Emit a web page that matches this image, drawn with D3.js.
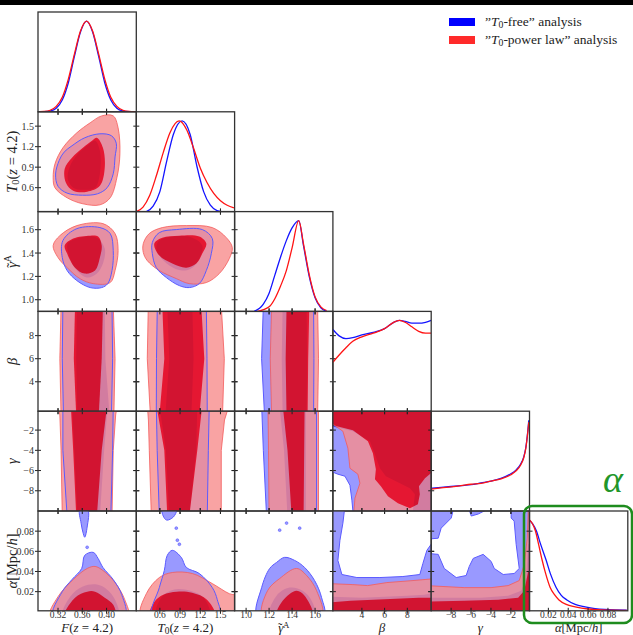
<!DOCTYPE html>
<html>
<head>
<meta charset="utf-8">
<script src="https://cdn.jsdelivr.net/npm/d3@7"></script>
<style>
  body { margin: 0; background: #fff; }
  svg { display: block; }
  text { font-family: "Liberation Serif", "DejaVu Serif", serif; }
</style>
</head>
<body>
<svg class="corner"></svg>
<script>
// ---------------- data ----------------
// parameters: F, T0, gammaA, beta, gamma, alpha
let domains = [[0.287, 0.449], [0.25, 1.71], [0.9, 1.755], [1.45, 10.1], [-10, -0.13], [0.001, 0.1]];
let ticks = [[0.32, 0.36, 0.40], [0.6, 0.9, 1.2, 1.5], [1.0, 1.2, 1.4, 1.6], [4, 6, 8], [-8, -6, -4, -2], [0.02, 0.04, 0.06, 0.08]];
let tickLabels = [["0.32", "0.36", "0.40"], ["0.6", "0.9", "1.2", "1.5"], ["1.0", "1.2", "1.4", "1.6"], ["4", "6", "8"],
                  ["\u22128", "\u22126", "\u22124", "\u22122"], ["0.02", "0.04", "0.06", "0.08"]];
let axisLabels = [
  [["F", "i"], ["("], ["z", "i"], [" = 4.2)"]],
  [["T", "i"], ["0", "sub"], ["("], ["z", "i"], [" = 4.2)"]],
  [["\u03b3", "i"], ["\u02dc", "acc"], ["A", "sup"]],
  [["\u03b2", "i"]],
  [["\u03b3", "i"]],
  [["\u03b1", "i"], ["[Mpc/"], ["h", "i"], ["]"]]
];
let legendItems = [
  [["\u201d"], ["T", "i"], ["0", "sub"], ["-free\u201d analysis"]],
  [["\u201d"], ["T", "i"], ["0", "sub"], ["-power law\u201d analysis"]]
];

// 1D marginals (relative height) : blue = T0-free, red = T0-power law
let pdfBlue = [
  [[0.297,0.002],[0.307,0.01],[0.317,0.04],[0.327,0.13],[0.337,0.32],[0.347,0.61],[0.357,0.88],[0.367,1],[0.377,0.88],[0.387,0.61],[0.397,0.32],[0.407,0.13],[0.417,0.04],[0.427,0.01],[0.437,0.002]],
  [[0.40,0],[0.5,0.06],[0.6,0.22],[0.7,0.55],[0.8,0.85],[0.93,1],[1.05,0.85],[1.15,0.5],[1.25,0.22],[1.35,0.07],[1.45,0.01],[1.52,0]],
  [[1.07,0],[1.15,0.08],[1.2,0.2],[1.25,0.4],[1.3,0.6],[1.35,0.78],[1.4,0.92],[1.458,1],[1.5,0.72],[1.55,0.38],[1.6,0.15],[1.65,0.04],[1.7,0]],
  [[1.45,0.9],[2.0,0.83],[2.6,0.8],[3.2,0.81],[4,0.84],[5,0.87],[6,0.91],[6.8,0.98],[7.3,1],[7.8,0.99],[8.4,0.97],[9,0.97],[9.6,0.98],[10.1,1.0]],
  [[-10,0.25],[-9,0.26],[-8,0.27],[-7,0.28],[-6,0.29],[-5,0.31],[-4,0.33],[-3,0.36],[-2,0.41],[-1.5,0.45],[-1,0.52],[-0.7,0.6],[-0.5,0.7],[-0.35,0.83],[-0.2,1.0]],
  [[0.001,1.0],[0.004,0.96],[0.008,0.88],[0.012,0.74],[0.0177,0.56],[0.022,0.41],[0.0277,0.26],[0.033,0.17],[0.0387,0.12],[0.047,0.07],[0.057,0.044],[0.067,0.025],[0.077,0.015],[0.088,0.01],[0.099,0.008]]
];
let pdfRed = [
  [[0.29,0.002],[0.297,0.004],[0.307,0.017],[0.317,0.06],[0.327,0.16],[0.337,0.36],[0.347,0.635],[0.357,0.89],[0.367,1],[0.377,0.89],[0.387,0.635],[0.397,0.36],[0.407,0.16],[0.417,0.06],[0.427,0.017],[0.437,0.004],[0.447,0.001]],
  [[0.25,0],[0.35,0.05],[0.45,0.18],[0.55,0.4],[0.65,0.65],[0.75,0.87],[0.886,1],[1.0,0.9],[1.1,0.7],[1.2,0.48],[1.3,0.32],[1.4,0.2],[1.5,0.12],[1.6,0.07],[1.7,0.04]],
  [[1.1,0],[1.2,0.05],[1.25,0.14],[1.3,0.28],[1.35,0.45],[1.4,0.7],[1.458,1],[1.5,0.74],[1.55,0.4],[1.6,0.16],[1.65,0.05],[1.7,0.01]],
  [[1.45,0.54],[2,0.62],[2.6,0.7],[3.2,0.77],[4,0.82],[5,0.86],[6,0.91],[6.8,0.98],[7.3,1],[7.8,0.98],[8.4,0.93],[9,0.88],[9.6,0.86],[10.1,0.86]],
  [[-10,0.24],[-9,0.255],[-8,0.265],[-7,0.28],[-6,0.295],[-5,0.305],[-4,0.33],[-3,0.355],[-2,0.4],[-1.5,0.44],[-1,0.51],[-0.7,0.59],[-0.5,0.69],[-0.35,0.82],[-0.2,0.98]],
  [[0.001,1.0],[0.004,0.96],[0.007,0.88],[0.01,0.74],[0.0137,0.56],[0.017,0.42],[0.0217,0.26],[0.026,0.18],[0.0307,0.12],[0.038,0.07],[0.047,0.044],[0.06,0.02],[0.07,0.012],[0.085,0.006],[0.099,0.004]]
];

// 2D credible regions (b = T0-free, r = T0-power law; 95 / 68 per cent)
let T0_F = {
  b95: [[0.343,1.213],[0.364,1.33],[0.389,1.388],[0.408,1.36],[0.416,1.25],[0.414,1.05],[0.411,0.803],[0.401,0.6],[0.385,0.51],[0.36,0.49],[0.335,0.52],[0.32,0.62],[0.316,0.8],[0.322,1.0],[0.33,1.12]],
  b68: [[0.381,1.286],[0.389,1.139],[0.389,0.803],[0.381,0.598],[0.361,0.569],[0.345,0.598],[0.336,0.73],[0.34,0.92],[0.353,1.096],[0.368,1.213]],
  r95: [[0.411,1.65],[0.419,1.476],[0.422,1.096],[0.417,0.744],[0.406,0.452],[0.389,0.349],[0.361,0.364],[0.335,0.452],[0.315,0.598],[0.312,0.744],[0.315,0.949],[0.328,1.183],[0.351,1.403],[0.373,1.549],[0.392,1.65]],
  r68: [[0.384,1.33],[0.394,1.183],[0.397,0.891],[0.389,0.627],[0.368,0.54],[0.345,0.554],[0.333,0.671],[0.331,0.876],[0.343,1.037],[0.361,1.183],[0.376,1.286]]
};
let gA_F = {
  b95: [[0.328,1.507],[0.351,1.609],[0.389,1.618],[0.406,1.567],[0.411,1.421],[0.409,1.25],[0.402,1.138],[0.392,1.104],[0.373,1.104],[0.351,1.164],[0.335,1.25],[0.327,1.361]],
  b68: [[0.336,1.481],[0.356,1.532],[0.384,1.532],[0.397,1.438],[0.394,1.31],[0.384,1.224],[0.368,1.19],[0.351,1.25],[0.34,1.352]],
  r95: [[0.312,1.464],[0.323,1.549],[0.351,1.635],[0.394,1.652],[0.414,1.567],[0.419,1.421],[0.414,1.25],[0.406,1.147],[0.378,1.138],[0.356,1.181],[0.335,1.275],[0.32,1.361]],
  r68: [[0.331,1.464],[0.345,1.524],[0.373,1.549],[0.386,1.541],[0.392,1.464],[0.389,1.361],[0.381,1.25],[0.364,1.224],[0.348,1.275],[0.335,1.395]]
};
let gA_T0 = {
  b95: [[0.488,1.49],[0.592,1.575],[0.844,1.601],[1.23,1.601],[1.379,1.524],[1.364,1.395],[1.29,1.25],[1.186,1.138],[1.037,1.104],[0.889,1.121],[0.696,1.19],[0.547,1.275],[0.488,1.395]],
  b68: [[0.592,1.507],[0.785,1.541],[1.082,1.532],[1.23,1.464],[1.186,1.352],[1.082,1.275],[0.933,1.25],[0.74,1.293],[0.592,1.378],[0.547,1.447]],
  r95: [[0.354,1.481],[0.443,1.567],[0.636,1.618],[0.993,1.635],[1.379,1.618],[1.587,1.532],[1.676,1.447],[1.631,1.352],[1.483,1.224],[1.29,1.147],[1.037,1.138],[0.844,1.181],[0.592,1.25],[0.413,1.335],[0.354,1.404]],
  r68: [[0.517,1.481],[0.636,1.532],[0.889,1.549],[1.186,1.541],[1.29,1.481],[1.23,1.395],[1.141,1.31],[0.993,1.275],[0.785,1.31],[0.592,1.378]]
};
let beta_F = {
  b95: [[0.328,10.6],[0.327,6],[0.329,1.0],[0.408,1.0],[0.41,6],[0.409,10.6]],
  b68: [[0.351,10.6],[0.35,6],[0.352,1.0],[0.405,1.0],[0.398,6],[0.397,10.6]],
  r95: [[0.325,10.6],[0.323,6],[0.325,1.0],[0.412,1.0],[0.414,6],[0.411,10.6]],
  r68: [[0.348,10.6],[0.346,6],[0.35,1.0],[0.387,1.0],[0.392,6],[0.394,10.6]]
};
let beta_T0 = {
  b95: [[0.562,10.6],[0.55,6],[0.547,1.0],[1.304,1.0],[1.3,6],[1.29,10.6]],
  b68: [[0.71,10.6],[0.74,6],[0.68,1.0],[1.067,1.0],[1.1,6],[1.082,10.6]],
  r95: [[0.428,10.6],[0.413,6],[0.46,1.0],[1.53,1.0],[1.557,6],[1.512,10.6]],
  r68: [[0.636,10.6],[0.666,6],[0.592,1.0],[1.186,1.0],[1.26,6],[1.215,10.6]]
};
let beta_gA = {
  b95: [[1.15,10.6],[1.135,6],[1.161,1.0],[1.587,1.0],[1.59,6],[1.587,10.6]],
  b68: [[1.318,10.6],[1.31,6],[1.318,1.0],[1.526,1.0],[1.53,6],[1.526,10.6]],
  r95: [[1.222,10.6],[1.21,6],[1.222,1.0],[1.622,1.0],[1.63,6],[1.622,10.6]],
  r68: [[1.352,10.6],[1.344,6],[1.352,1.0],[1.535,1.0],[1.54,6],[1.55,10.6]]
};
let gam_F = {
  b95: [[0.328,0.5],[0.328,-4],[0.335,-10.5],[0.407,-10.5],[0.41,-4],[0.411,0.5]],
  b68: [[0.343,0.5],[0.347,-4],[0.352,-10.5],[0.389,-10.5],[0.396,-4],[0.402,0.5]],
  r95: [[0.32,0.5],[0.323,-0.5],[0.325,-4],[0.327,-10.5],[0.409,-10.5],[0.411,-4],[0.415,-0.5],[0.418,0.5]],
  r68: [[0.341,0.5],[0.345,-4],[0.35,-10.5],[0.384,-10.5],[0.392,-4],[0.401,0.5]]
};
let gam_T0 = {
  b95: [[0.547,0.5],[0.56,-4],[0.592,-10.5],[1.304,-10.5],[1.32,-4],[1.334,0.5]],
  b68: [[0.592,0.5],[0.69,-4],[0.74,-10.5],[1.037,-10.5],[1.14,-4],[1.156,0.5]],
  r95: [[0.413,0.5],[0.43,-1],[0.443,-4],[0.473,-10.5],[1.512,-10.5],[1.512,-4],[1.56,-1],[1.631,0.5]],
  r68: [[0.547,0.5],[0.666,-4],[0.71,-10.5],[1.037,-10.5],[1.156,-4],[1.23,0.5]]
};
let gam_gA = {
  b95: [[1.135,0.5],[1.15,-4],[1.178,-10.5],[1.613,-10.5],[1.613,0.5]],
  b68: [[1.29,0.5],[1.33,-4],[1.36,-10.5],[1.52,-10.5],[1.52,0.5]],
  r95: [[1.19,0.5],[1.195,-4],[1.2,-10.5],[1.63,-10.5],[1.63,0.5]],
  r68: [[1.318,0.5],[1.36,-4],[1.396,-10.5],[1.5,-10.5],[1.509,0.5]]
};
let gam_beta = {
  b95: [[1.0,0.5],[10.5,0.5],[10.5,-10.5],[3.21,-10.5],[3.21,-10.0],[3.12,-8.93],[2.95,-7.45],[2.51,-6.56],[1.89,-6.36],[1.45,-6.16],[1.0,-6.16]],
  b68: [[1.0,0.5],[10.5,0.5],[10.5,-10.5],[8.49,-10.5],[8.49,-10.0],[8.67,-8.34],[8.23,-7.75],[7.35,-7.25],[6.11,-6.56],[5.59,-5.77],[5.15,-4.38],[4.71,-3.1],[3.21,-2.11],[1.45,-1.64],[1.0,-1.64]],
  r95: [[1.0,0.5],[10.5,0.5],[10.5,-10.5],[3.3,-10.5],[3.3,-10.0],[3.39,-8.73],[3.83,-7.25],[3.65,-6.36],[2.95,-5.77],[2.77,-3.79],[2.33,-2.11],[1.45,-1.42],[1.0,-1.3]],
  r68: [[1.0,0.5],[10.5,0.5],[10.5,-6.2],[10.07,-6.26],[9.55,-6.76],[9.02,-7.55],[9.1,-8.34],[8.93,-9.33],[8.23,-9.72],[7.17,-9.23],[6.29,-8.54],[5.67,-7.55],[5.15,-6.86],[5.23,-5.87],[4.97,-4.28],[4.53,-3.1],[3.21,-2.01],[1.45,-1.51],[1.0,-1.5]]
};
let alpha_F = {
  b95: [[[0.312,-0.005],[0.327,0.02],[0.343,0.032],[0.359,0.043],[0.364,0.056],[0.378,0.059],[0.386,0.053],[0.394,0.044],[0.411,0.032],[0.425,0.017],[0.43,-0.005]],
        [[0.356,0.101],[0.369,0.101],[0.368,0.084],[0.364,0.074],[0.361,0.079],[0.358,0.088]]],
  b68: [[0.328,-0.005],[0.34,0.015],[0.361,0.025],[0.384,0.027],[0.401,0.022],[0.414,0.012],[0.419,-0.005]],
  r95: [[0.307,-0.005],[0.32,0.015],[0.345,0.032],[0.368,0.043],[0.381,0.045],[0.394,0.041],[0.414,0.029],[0.43,0.012],[0.435,-0.005]],
  r68: [[0.331,-0.005],[0.348,0.014],[0.368,0.02],[0.381,0.02],[0.397,0.014],[0.411,0.007],[0.414,-0.005]],
  dots: [[0.368,0.064]]
};
let alpha_T0 = {
  b95: [[[0.488,-0.005],[0.592,0.024],[0.666,0.041],[0.71,0.056],[0.785,0.061],[0.918,0.054],[0.993,0.044],[1.186,0.038],[1.379,0.024],[1.453,0.012],[1.483,-0.005]],
        [[0.636,0.101],[0.844,0.101],[0.8,0.094],[0.7,0.091],[0.65,0.095]]],
  b68: [[0.55,-0.005],[0.62,0.014],[0.8,0.022],[1.05,0.021],[1.25,0.014],[1.34,-0.005]],
  r95: [[0.324,-0.005],[0.399,0.018],[0.592,0.034],[0.785,0.039],[1.082,0.038],[1.379,0.028],[1.631,0.018],[1.78,0.015],[1.78,-0.005]],
  r68: [[0.45,-0.005],[0.52,0.01],[0.65,0.017],[0.85,0.02],[1.08,0.019],[1.3,0.012],[1.42,-0.005]],
  dots: [[0.844,0.083],[0.86,0.071],[0.89,0.067]]
};
let alpha_gA = {
  b95: [[1.1,-0.005],[1.135,0.024],[1.205,0.043],[1.265,0.049],[1.335,0.054],[1.422,0.051],[1.509,0.044],[1.596,0.031],[1.657,0.014],[1.674,-0.005]],
  b68: [[1.205,-0.005],[1.265,0.016],[1.379,0.024],[1.492,0.021],[1.57,0.011],[1.596,-0.005]],
  r95: [[1.144,-0.005],[1.187,0.021],[1.292,0.033],[1.439,0.043],[1.526,0.036],[1.613,0.021],[1.657,-0.005]],
  r68: [[1.265,-0.005],[1.318,0.011],[1.439,0.021],[1.509,0.016],[1.579,-0.005]],
  dots: [[1.292,0.081],[1.352,0.088],[1.466,0.083]]
};
let alpha_beta = {
  b95: [[1.0,0.105],[2.51,0.105],[2.33,0.088],[2.07,0.071],[1.89,0.051],[2.24,0.037],[3.56,0.034],[5.59,0.034],[7.61,0.035],[9.1,0.037],[9.37,0.048],[9.72,0.061],[10.16,0.068],[10.5,0.07],[10.5,-0.005],[1.0,-0.005]],
  b68: [[1.0,0.015],[4,0.014],[6,0.015],[8,0.016],[9.5,0.017],[10.5,0.019],[10.5,-0.005],[1.0,-0.005]],
  r95: [[1.0,0.028],[3.2,0.027],[4.5,0.026],[6.2,0.029],[8.5,0.031],[10.5,0.033],[10.5,-0.005],[1.0,-0.005]],
  r68: [[1.0,0.009],[3,0.011],[5,0.012],[7,0.013],[9,0.014],[10.5,0.014],[10.5,-0.005],[1.0,-0.005]]
};
let alpha_gam = {
  b95: [[[-10.5,0.105],[0.5,0.105],[0.5,-0.005],[-10.5,-0.005]],
        [[-10.5,0.072],[-9.3,0.073],[-9.0,0.083],[-7.99,0.093],[-7.79,0.101],[-6.18,0.101],[-5.98,0.095],[-5.28,0.097],[-4.48,0.101],[-1.97,0.101],[-1.97,0.093],[-1.67,0.09],[-1.47,0.067],[-1.16,0.043],[-1.67,0.038],[-2.77,0.037],[-3.67,0.043],[-3.98,0.05],[-4.78,0.057],[-5.78,0.053],[-6.18,0.045],[-6.49,0.036],[-7.49,0.034],[-8.69,0.043],[-9.3,0.057],[-10.5,0.058]]],
  b68: [[-10.5,0.014],[-4.98,0.014],[-2.27,0.016],[-0.96,0.021],[-0.46,0.034],[-0.26,0.067],[0.5,0.07],[0.5,-0.005],[-10.5,-0.005]],
  r95: [[-10.5,0.026],[-6.69,0.024],[-3.98,0.024],[-2.27,0.026],[-1.16,0.031],[-0.66,0.047],[-0.36,0.073],[-0.26,0.1],[0.5,0.105],[0.5,-0.005],[-10.5,-0.005]],
  r68: [[-10.5,0.01],[-6.69,0.011],[-3.27,0.012],[-1.27,0.014],[-0.66,0.021],[-0.26,0.04],[0.5,0.045],[0.5,-0.005],[-10.5,-0.005]]
};

// row, col, regions, smooth outline?
let panels = [
  [1, 0, T0_F, true], [2, 0, gA_F, true], [2, 1, gA_T0, true],
  [3, 0, beta_F, false], [3, 1, beta_T0, false], [3, 2, beta_gA, false],
  [4, 0, gam_F, false], [4, 1, gam_T0, false], [4, 2, gam_gA, false], [4, 3, gam_beta, false],
  [5, 0, alpha_F, true], [5, 1, alpha_T0, true], [5, 2, alpha_gA, true], [5, 3, alpha_beta, false], [5, 4, alpha_gam, false]
];

// ---------------- layout ----------------
let width = 633, height = 635;
let margin = { left: 38, top: 12 };
let pw = 98.3, ph = 99.8;

let svg = d3.select("svg.corner").attr("width", width).attr("height", height);

// black strip on top of the figure
svg.append("rect").attr("x", 0).attr("y", 0).attr("width", width).attr("height", 5).style("fill", "#000");

let xs = domains.map(function(d, i) {
  return d3.scaleLinear().domain(d).range([margin.left + i * pw, margin.left + (i + 1) * pw]);
});
let ys = domains.map(function(d, j) {
  return d3.scaleLinear().domain(d).range([margin.top + (j + 1) * ph, margin.top + j * ph]);
});

// text made of pieces: italic, subscript, superscript, accent over previous glyph
function richText(sel, parts, fs, supRaise) {
  let shift = 0;
  supRaise = supRaise || 0.42;
  parts.forEach(function(p) {
    let t = sel.append("tspan").text(p[0]);
    let dy = -shift;
    shift = 0;
    if (p[1] == "i") t.style("font-style", "italic");
    if (p[1] == "sub") { shift = fs * 0.15; t.style("font-size", (fs * 0.72) + "px"); }
    if (p[1] == "sup") { shift = -fs * supRaise; t.style("font-size", (fs * 0.68) + "px").attr("dx", fs * 0.04); }
    if (p[1] == "acc") { t.attr("dx", -fs * 0.4); }
    dy += shift;
    if (dy != 0) t.attr("dy", dy);
  });
}

let defs = svg.append("defs");
function clipFor(r, c) {
  let id = "clip-" + r + "-" + c;
  defs.append("clipPath").attr("id", id)
    .append("rect")
    .attr("x", xs[c].range()[0]).attr("y", ys[r].range()[1])
    .attr("width", pw).attr("height", ph);
  return "url(#" + id + ")";
}

function rings(level) {
  if (!level) return [];
  return Array.isArray(level[0][0]) ? level : [level];
}

// ---------------- 2D panels ----------------
panels.forEach(function(p) {
  let r = p[0], c = p[1], reg = p[2];
  let x = xs[c], y = ys[r];
  let line = d3.line()
    .x(function(d) { return x(d[0]); })
    .y(function(d) { return y(d[1]); })
    .curve(p[3] ? d3.curveCatmullRomClosed.alpha(0.5) : d3.curveLinearClosed);
  let path = function(level) { return rings(level).map(function(rg) { return line(rg); }).join(" "); };

  let g = svg.append("g").attr("clip-path", clipFor(r, c));
  g.append("path").attr("d", path(reg.b95)).style("fill", "#9999ff").style("fill-rule", "evenodd");
  g.append("path").attr("d", path(reg.b68)).style("fill", "#3c3cf0");
  g.append("path").attr("d", path(reg.r95)).style("fill", "rgb(247,140,140)").style("opacity", 0.8);
  g.append("path").attr("d", path(reg.r68)).style("fill", "rgb(255,40,78)").style("mix-blend-mode", "multiply");
  g.append("path").attr("d", path(reg.r95)).style("fill", "none").style("stroke", "#f45a5a").style("stroke-width", 0.8);
  g.append("path").attr("d", path(reg.b95)).style("fill", "none").style("stroke", "#5a5aff").style("stroke-width", 1);
  if (reg.dots) {
    g.selectAll("circle.dot").data(reg.dots).enter().append("circle")
      .attr("cx", function(d) { return x(d[0]); })
      .attr("cy", function(d) { return y(d[1]); })
      .attr("r", 1.4)
      .style("fill", "#9999ff").style("stroke", "#5a5aff").style("stroke-width", 0.6);
  }

  // ticks on all four sides, crossing the frame
  let x0 = x.range()[0], x1 = x.range()[1], y0 = y.range()[1], y1 = y.range()[0];
  ticks[c].forEach(function(t) {
    [y0, y1].forEach(function(yy) {
      svg.append("line").attr("x1", x(t)).attr("x2", x(t)).attr("y1", yy - 3).attr("y2", yy + 3)
        .style("stroke", "#222").style("stroke-width", 1);
    });
  });
  ticks[r].forEach(function(t) {
    [x0, x1].forEach(function(xx) {
      svg.append("line").attr("x1", xx - 3).attr("x2", xx + 3).attr("y1", y(t)).attr("y2", y(t))
        .style("stroke", "#222").style("stroke-width", 1);
    });
  });
  svg.append("rect").attr("x", x0).attr("y", y0).attr("width", pw).attr("height", ph)
    .style("fill", "none").style("stroke", "#333").style("stroke-width", 1.3);
});

// ---------------- diagonal panels ----------------
domains.forEach(function(d, i) {
  let x = xs[i];
  let y = d3.scaleLinear().domain([0, 1.1]).range([margin.top + (i + 1) * ph, margin.top + i * ph]);
  let line = d3.line()
    .x(function(p) { return x(p[0]); })
    .y(function(p) { return y(p[1]); })
    .curve(d3.curveMonotoneX);
  let g = svg.append("g").attr("clip-path", clipFor(i, i));
  g.append("path").attr("d", line(pdfBlue[i])).style("fill", "none").style("stroke", "#1414ff").style("stroke-width", 1.3);
  g.append("path").attr("d", line(pdfRed[i])).style("fill", "none").style("stroke", "#ff1414").style("stroke-width", 1.3);

  let x0 = x.range()[0], yb = y.range()[0], yt = y.range()[1];
  ticks[i].forEach(function(t) {
    svg.append("line").attr("x1", x(t)).attr("x2", x(t)).attr("y1", yb - 3).attr("y2", yb + 3)
      .style("stroke", "#222").style("stroke-width", 1);
  });
  svg.append("rect").attr("x", x0).attr("y", yt).attr("width", pw).attr("height", ph)
    .style("fill", "none").style("stroke", "#333").style("stroke-width", 1.3);
});

// ---------------- tick labels and axis labels ----------------
let bottom = margin.top + 6 * ph;
domains.forEach(function(d, i) {
  ticks[i].forEach(function(t, k) {
    svg.append("text")
      .attr("x", xs[i](t)).attr("y", bottom + 7.4)
      .style("text-anchor", "middle").style("font-size", "9.5px").style("fill", "#333")
      .text(tickLabels[i][k]);
  });
  let fs = i == 5 ? 12.5 : 13;
  let lab = svg.append("text")
    .attr("x", (xs[i].range()[0] + xs[i].range()[1]) / 2)
    .attr("y", bottom + 21)
    .style("text-anchor", "middle").style("font-size", fs + "px").style("fill", "#222");
  richText(lab, axisLabels[i], fs, 0.3);
});
for (let j = 1; j < 6; j++) {
  ticks[j].forEach(function(t, k) {
    svg.append("text")
      .attr("x", margin.left - 4).attr("y", ys[j](t) + 3.5)
      .style("text-anchor", "end").style("font-size", "10px").style("fill", "#333")
      .text(tickLabels[j][k]);
  });
  let cy = (ys[j].range()[0] + ys[j].range()[1]) / 2;
  let lab = svg.append("text")
    .attr("transform", "translate(17," + cy + ") rotate(-90)")
    .style("text-anchor", "middle").style("font-size", "14.5px").style("fill", "#222");
  richText(lab, axisLabels[j], 14.5);
}

// ---------------- legend ----------------
let legendColors = ["#0000ff", "#ff2a2a"];
legendItems.forEach(function(item, k) {
  svg.append("rect").attr("x", 449).attr("y", 18 + k * 18).attr("width", 26).attr("height", 8)
    .style("fill", legendColors[k]);
  let t = svg.append("text").attr("x", 485).attr("y", 25.5 + k * 18)
    .style("font-size", "13.5px").style("fill", "#222");
  richText(t, item, 13.5);
});

// ---------------- highlight of alpha ----------------
svg.append("rect").attr("x", 524).attr("y", 506).attr("width", 108).attr("height", 117)
  .attr("rx", 8).attr("ry", 8)
  .style("fill", "none").style("stroke", "#1e8c1e").style("stroke-width", 2.5);
svg.append("text").attr("x", 603).attr("y", 492)
  .style("font-size", "38px").style("font-style", "italic").style("fill", "#22962a")
  .text("\u03b1");
</script>
</body>
</html>
